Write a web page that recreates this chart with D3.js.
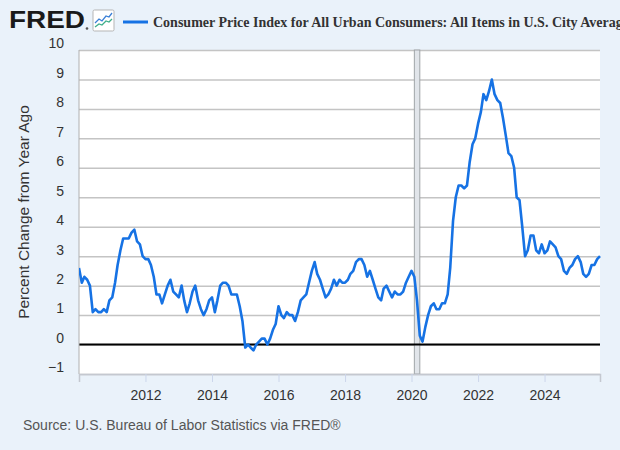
<!DOCTYPE html>
<html>
<head>
<meta charset="utf-8">
<script src="https://cdn.jsdelivr.net/npm/d3@7"></script>
<style>
  body { margin: 0; background: #eaf2fa; }
  svg { display: block; font-family: Arial, "Liberation Sans", sans-serif; }
</style>
</head>
<body>
<div class="container"></div>
<script>
// CPI-U, percent change from year ago, monthly from Jan 2010
const startYear = 2010;
const cpiYoY = [
  2.6, 2.1, 2.3, 2.2, 2.0, 1.1, 1.2, 1.1, 1.1, 1.2, 1.1, 1.5, // 2010
  1.6, 2.1, 2.7, 3.2, 3.6, 3.6, 3.6, 3.8, 3.9, 3.5, 3.4, 3.0, // 2011
  2.9, 2.9, 2.7, 2.3, 1.7, 1.7, 1.4, 1.7, 2.0, 2.2, 1.8, 1.7, // 2012
  1.6, 2.0, 1.5, 1.1, 1.4, 1.8, 2.0, 1.5, 1.2, 1.0, 1.2, 1.5, // 2013
  1.6, 1.1, 1.5, 2.0, 2.1, 2.1, 2.0, 1.7, 1.7, 1.7, 1.3, 0.8, // 2014
  -0.1, 0.0, -0.1, -0.2, 0.0, 0.1, 0.2, 0.2, 0.0, 0.2, 0.5, 0.7, // 2015
  1.3, 1.0, 0.9, 1.1, 1.0, 1.0, 0.8, 1.1, 1.5, 1.6, 1.7, 2.1, // 2016
  2.5, 2.8, 2.4, 2.2, 1.9, 1.6, 1.7, 1.9, 2.2, 2.0, 2.2, 2.1, // 2017
  2.1, 2.2, 2.4, 2.5, 2.8, 2.9, 2.9, 2.7, 2.3, 2.5, 2.2, 1.9, // 2018
  1.6, 1.5, 1.9, 2.0, 1.8, 1.6, 1.8, 1.7, 1.7, 1.8, 2.1, 2.3, // 2019
  2.5, 2.3, 1.5, 0.3, 0.1, 0.6, 1.0, 1.3, 1.4, 1.2, 1.2, 1.4, // 2020
  1.4, 1.7, 2.6, 4.2, 5.0, 5.4, 5.4, 5.3, 5.4, 6.2, 6.8, 7.0, // 2021
  7.5, 7.9, 8.5, 8.3, 8.6, 9.0, 8.5, 8.3, 8.2, 7.7, 7.1, 6.5, // 2022
  6.4, 6.0, 5.0, 4.9, 4.0, 3.0, 3.2, 3.7, 3.7, 3.2, 3.1, 3.4, // 2023
  3.1, 3.2, 3.5, 3.4, 3.3, 3.0, 2.9, 2.5, 2.4, 2.6, 2.7, 2.9, // 2024
  3.0, 2.8, 2.4, 2.3, 2.4, 2.7, 2.7, 2.9, 3.0                // 2025
];
const yTicks = [-1, 0, 1, 2, 3, 4, 5, 6, 7, 8, 9, 10];
const xTickYears = [2012, 2014, 2016, 2018, 2020, 2022, 2024];
const recession = [new Date(2020, 1, 1), new Date(2020, 3, 1)];

const titleText = 'Consumer Price Index for All Urban Consumers: All Items in U.S. City Average';
const yTitle = 'Percent Change from Year Ago';
const sourceText = 'Source: U.S. Bureau of Labor Statistics via FRED®';

const width = 620;
const height = 450;
const plot = { left: 79, right: 600, top: 50, bottom: 374 };

const data = cpiYoY.map((v, i) => ({ date: new Date(startYear, i, 1), value: v }));

const svg = d3
  .select('.container')
  .append('svg')
  .attr('width', width)
  .attr('height', height);

svg.append('rect').attr('width', width).attr('height', height).attr('fill', '#eaf2fa');

const xScale = d3
  .scaleTime()
  .domain([data[0].date, data[data.length - 1].date])
  .range([plot.left, plot.right]);

const yScale = d3
  .scaleLinear()
  .domain([-1, 10])
  .range([plot.bottom, plot.top]);

// plot background
svg
  .append('rect')
  .attr('x', plot.left)
  .attr('y', plot.top)
  .attr('width', plot.right - plot.left)
  .attr('height', plot.bottom - plot.top)
  .attr('fill', '#ffffff');

// gridlines
const grid = svg
  .append('g')
  .attr('class', 'grid')
  .attr('transform', `translate(${plot.left},0)`)
  .call(d3.axisLeft(yScale).tickValues(yTicks).tickSize(-(plot.right - plot.left)).tickFormat(''));
grid.select('.domain').remove();
grid.selectAll('line').attr('stroke', '#c4c4c4').attr('stroke-width', 1.5);

// recession band
svg
  .append('rect')
  .attr('x', xScale(recession[0]))
  .attr('y', plot.top)
  .attr('width', xScale(recession[1]) - xScale(recession[0]))
  .attr('height', plot.bottom - plot.top)
  .attr('fill', '#e1e5ea')
  .attr('stroke', '#a0a4a8')
  .attr('stroke-width', 1);

// zero line
svg
  .append('line')
  .attr('x1', plot.left)
  .attr('x2', plot.right)
  .attr('y1', yScale(0))
  .attr('y2', yScale(0))
  .attr('stroke', '#000')
  .attr('stroke-width', 2);

// axes lines
svg
  .append('line')
  .attr('x1', plot.left)
  .attr('x2', plot.left)
  .attr('y1', plot.top)
  .attr('y2', plot.bottom)
  .attr('stroke', '#b0b0b0')
  .attr('stroke-width', 1);

const xAxis = svg
  .append('g')
  .attr('id', 'x-axis')
  .attr('transform', `translate(0,${plot.bottom})`)
  .call(
    d3
      .axisBottom(xScale)
      .tickValues(xTickYears.map((y) => new Date(y, 0, 1)))
      .tickSize(8)
      .tickPadding(8)
      .tickFormat(d3.timeFormat('%Y'))
  );
xAxis.select('.domain').attr('stroke', '#c4c8d0').attr('stroke-width', 1.5);
xAxis.selectAll('line').attr('stroke', '#ccd6eb');
xAxis
  .selectAll('text')
  .attr('fill', '#333')
  .style('font-size', '14px');

const yAxis = svg
  .append('g')
  .attr('id', 'y-axis')
  .attr('transform', `translate(${plot.left - 15},0)`)
  .call(d3.axisLeft(yScale).tickValues(yTicks).tickSize(0).tickPadding(0));
yAxis.select('.domain').remove();
yAxis
  .selectAll('text')
  .attr('fill', '#333')
  .attr('dy', '-0.15em')
  .style('font-size', '14px');

// series
svg
  .append('clipPath')
  .attr('id', 'clip')
  .append('rect')
  .attr('x', plot.left)
  .attr('y', plot.top - 5)
  .attr('width', plot.right - plot.left + 2)
  .attr('height', plot.bottom - plot.top + 10);

const line = d3
  .line()
  .x((d) => xScale(d.date))
  .y((d) => yScale(d.value));

svg
  .append('path')
  .datum(data)
  .attr('clip-path', 'url(#clip)')
  .attr('d', line)
  .attr('fill', 'none')
  .attr('stroke', '#1672e4')
  .attr('stroke-width', 2.6)
  .attr('stroke-linejoin', 'round');

// y title
svg
  .append('text')
  .attr('transform', `translate(29,${(plot.top + plot.bottom) / 2}) rotate(-90)`)
  .attr('text-anchor', 'middle')
  .attr('fill', '#333')
  .style('font-size', '15.5px')
  .text(yTitle);

// header: logo, icon, legend
svg
  .append('text')
  .attr('x', 9)
  .attr('y', 28)
  .style('font-size', '24px')
  .style('font-weight', 'bold')
  .attr('fill', '#1a1a1a')
  .attr('textLength', 76)
  .attr('lengthAdjust', 'spacingAndGlyphs')
  .text('FRED');
svg.append('circle').attr('cx', 87).attr('cy', 28.5).attr('r', 1.3).attr('fill', '#555');

const icon = svg.append('g').attr('transform', 'translate(93,10)');
icon
  .append('rect')
  .attr('width', 21)
  .attr('height', 21)
  .attr('rx', 1.5)
  .attr('fill', '#fff')
  .attr('stroke', '#b5b5b5');
icon
  .append('polyline')
  .attr('points', '2,13 6,9 9,11 13,6 16,7 19,3')
  .attr('fill', 'none')
  .attr('stroke', '#3a7fd6')
  .attr('stroke-width', 1.3);
icon
  .append('polyline')
  .attr('points', '2,17 6,14 9,15 13,11 16,12 19,9')
  .attr('fill', 'none')
  .attr('stroke', '#3fae8a')
  .attr('stroke-width', 1.3);

svg
  .append('line')
  .attr('x1', 123)
  .attr('x2', 148)
  .attr('y1', 22)
  .attr('y2', 22)
  .attr('stroke', '#1672e4')
  .attr('stroke-width', 3);

svg
  .append('text')
  .attr('x', 153)
  .attr('y', 27)
  .style('font-family', '"Liberation Serif", "Times New Roman", serif')
  .style('font-weight', 'bold')
  .style('font-size', '14px')
  .attr('fill', '#333')
  .text(titleText);

// source
svg
  .append('text')
  .attr('x', 23)
  .attr('y', 430)
  .style('font-size', '14px')
  .attr('fill', '#555')
  .text(sourceText);
</script>
</body>
</html>
